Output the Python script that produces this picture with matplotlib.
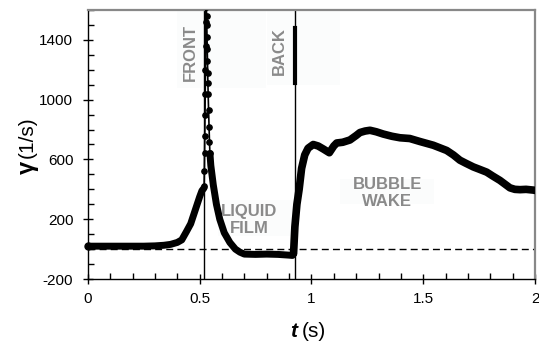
import matplotlib
matplotlib.use("Agg")
import matplotlib.pyplot as plt
from matplotlib.ticker import MultipleLocator, FixedLocator
from matplotlib.patches import Rectangle

plt.rcParams['font.family'] = ['Liberation Sans', 'DejaVu Sans']
plt.rcParams['axes.unicode_minus'] = False

# main curve (t in s, gamma in 1/s)
t_main = [0.00, 0.05, 0.10, 0.15, 0.20, 0.25, 0.30, 0.34, 0.37, 0.40, 0.42, 0.44, 0.46, 0.48,
          0.50, 0.51, 0.52]
g_main = [20, 20, 20, 20, 20, 20, 22, 26, 32, 45, 62, 115, 170, 260,
          350, 390, 410]

t_spike = [0.520, 0.521, 0.522, 0.523, 0.524, 0.525, 0.526, 0.527, 0.528, 0.530,
           0.531, 0.532, 0.533, 0.534, 0.535, 0.536, 0.537, 0.538, 0.540, 0.542, 0.544, 0.546]
g_spike = [420, 520, 640, 760, 900, 1040, 1200, 1360, 1520, 1620,
           1560, 1500, 1420, 1340, 1260, 1180, 1110, 1040, 930, 820, 720, 640]

t_film = [0.546, 0.55, 0.561, 0.575, 0.59, 0.61, 0.635, 0.66, 0.68, 0.70, 0.75, 0.80, 0.85,
          0.90, 0.915, 0.92]
g_film = [640, 560, 430, 300, 200, 110, 45, 0, -20, -33, -35, -33, -35,
          -40, -42, -30]

t_wake = [0.92, 0.926, 0.935, 0.945, 0.956, 0.97, 0.985, 1.008, 1.03, 1.053, 1.08, 1.10, 1.113,
          1.14, 1.172, 1.20, 1.217, 1.24, 1.262, 1.29, 1.321, 1.36, 1.396, 1.44, 1.485, 1.545,
          1.605, 1.635, 1.664, 1.69, 1.724, 1.75, 1.784, 1.81, 1.843, 1.87, 1.888, 1.91, 1.933,
          1.96, 1.993, 2.0]
g_wake = [-30, 150, 300, 400, 540, 630, 675, 700, 690, 670, 645, 690, 710,
          715, 730, 760, 780, 790, 795, 785, 770, 755, 745, 740, 720, 695,
          660, 630, 595, 575, 550, 535, 515, 490, 460, 430, 410, 400, 398,
          400, 395, 393]

t_front = 0.52
t_back = 0.927
back_mark = [1113, 1480]

x_ticks = [0, 0.5, 1, 1.5, 2]
x_labels = ['0', '0.5', '1', '1.5', '2']
y_ticks = [-200, 200, 600, 1000, 1400]

fig = plt.figure(figsize=(5.39, 3.42), dpi=100)
ax = fig.add_axes([0.163, 0.184, 0.8296, 0.787])
ax.set_xlim(0, 2)
ax.set_ylim(-200, 1600)

gray_box = '#fbfcfc'
txt_gray = '#8a8a8a'

# faint background boxes behind labels
ax.add_patch(Rectangle((0.40, 1080), 0.395, 520, facecolor=gray_box, edgecolor='none', zorder=0))
ax.add_patch(Rectangle((0.80, 1100), 0.33, 500, facecolor=gray_box, edgecolor='none', zorder=0))
ax.add_patch(Rectangle((0.58, 90), 0.34, 240, facecolor=gray_box, edgecolor='none', zorder=0))
ax.add_patch(Rectangle((1.13, 300), 0.42, 170, facecolor=gray_box, edgecolor='none', zorder=0))

ax.axhline(0, color='black', lw=1.0, ls=(0, (5, 3)), zorder=1)
ax.axvline(t_front, color='black', lw=1.0, zorder=2)
ax.axvline(t_back, color='black', lw=1.0, zorder=2)
ax.plot([t_back, t_back], back_mark, color='black', lw=3, zorder=2)

ax.plot(t_main, g_main, color='black', lw=5, solid_capstyle='round', zorder=3)
ax.plot(t_film, g_film, color='black', lw=5, solid_capstyle='round', zorder=3)
ax.plot(t_wake, g_wake, color='black', lw=5.5, solid_capstyle='round', zorder=3)
ax.plot(t_spike, g_spike, color='black', lw=1.2, marker='o', ms=3.8, zorder=3)
ax.plot([t_main[0]], [g_main[0]], 'o', color='black', ms=5, clip_on=False, zorder=4)

txt_kw = dict(color=txt_gray, fontweight='bold', fontsize=12, ha='center', va='center')
ax.text(0.457, 1317, 'FRONT', rotation=90, **txt_kw)
ax.text(0.855, 1327, 'BACK', rotation=90, **txt_kw)
ax.text(0.72, 195, 'LIQUID\nFILM', linespacing=1.15, **txt_kw)
ax.text(1.34, 375, 'BUBBLE\nWAKE', linespacing=1.15, **txt_kw)

ax.xaxis.set_major_locator(FixedLocator(x_ticks))
ax.set_xticklabels(x_labels)
ax.xaxis.set_minor_locator(MultipleLocator(0.1))
ax.yaxis.set_major_locator(FixedLocator(y_ticks))
ax.yaxis.set_minor_locator(MultipleLocator(100))
ax.tick_params(which='major', direction='inout', length=7, width=1, labelsize=11)
ax.tick_params(axis='y', which='major', pad=7)
ax.tick_params(axis='x', which='major', pad=5.5)
ax.tick_params(which='minor', direction='in', length=4, width=1)

for s in ['left', 'bottom']:
    ax.spines[s].set_color('black')
    ax.spines[s].set_linewidth(1.0)
for s in ['top', 'right']:
    ax.spines[s].set_color('#888888')
    ax.spines[s].set_linewidth(1.6)

fig.text(0.551, 0.03, 't', fontsize=15, fontweight='bold', style='italic', ha='right', va='center')
fig.text(0.559, 0.03, '(s)', fontsize=15, ha='left', va='center')
fig.text(0.05, 0.509, 'γ', fontsize=17, fontweight='bold', rotation=90, ha='center', va='center')
fig.text(0.05, 0.60, '(1/s)', fontsize=15, rotation=90, ha='center', va='center')

fig.savefig('out.png', dpi=100)
